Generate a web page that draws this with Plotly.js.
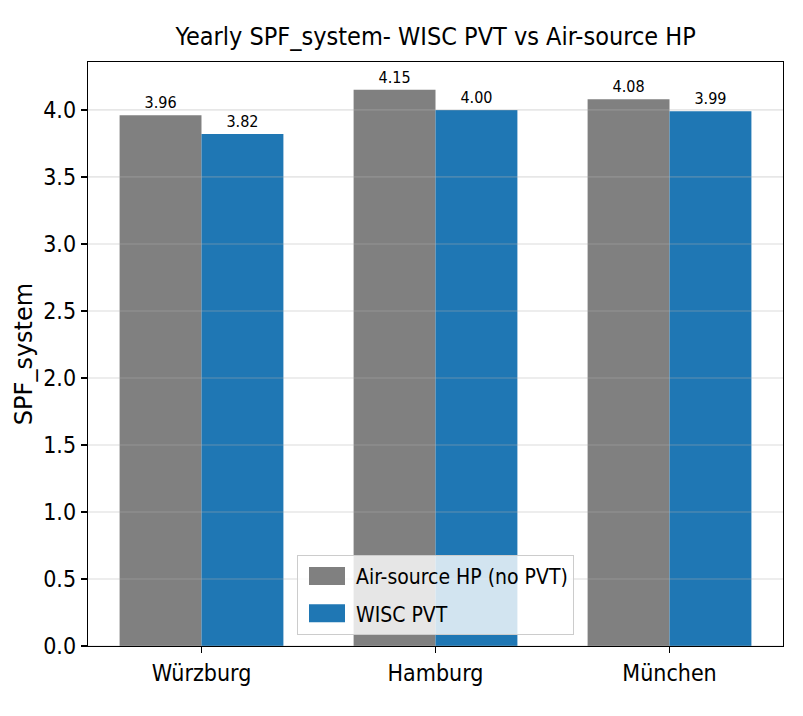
<!DOCTYPE html>
<html>
<head>
<meta charset="utf-8">
<script src="https://cdn.plot.ly/plotly-3.0.1.min.js"></script>
<style>
  html, body { margin: 0; padding: 0; background: #fff; }
  #chart { width: 803px; height: 716px; }
</style>
</head>
<body>
<div id="chart"></div>
<script>
// Yearly SPF per city, two systems
const CITIES = ["Würzburg", "Hamburg", "München"];
const AIR_SOURCE = [3.96, 4.15, 4.08]; // Air-source HP (no PVT)
const WISC_PVT = [3.82, 4.0, 3.99];
const Y_TICKS = [0, 0.5, 1.0, 1.5, 2.0, 2.5, 3.0, 3.5, 4.0];

const COND = "'DejaVu Sans Condensed', 'DejaVu Sans', sans-serif";

// matplotlib-ish autoscale: 5% headroom above the tallest bar
const yMax = Math.max(...AIR_SOURCE, ...WISC_PVT) * 1.05;

function barTrace(name, values, color, group) {
  return {
    type: "bar",
    name,
    x: CITIES,
    y: values,
    legendgroup: group,
    marker: { color, line: { width: 0 } },
    texttemplate: "%{y:.2f}",
    textposition: "outside",
    textfont: { family: COND, size: 16, color: "#000" },
    cliponaxis: false,
    hoverinfo: "x+y",
  };
}

const traces = [
  barTrace("Air-source HP (no PVT)", AIR_SOURCE, "#808080", "a"),
  barTrace("WISC PVT", WISC_PVT, "#1f77b4", "b"),
];

// grid drawn over the bars, faint, like ax.grid(alpha=0.3)
const gridShapes = Y_TICKS.map((v) => ({
  type: "line",
  xref: "paper",
  yref: "y",
  x0: 0,
  x1: 1,
  y0: v,
  y1: v,
  layer: "above",
  line: { color: "rgba(176,176,176,0.3)", width: 1.6 },
}));

const axisStyle = {
  showline: true,
  linecolor: "#000",
  linewidth: 1.3,
  mirror: true,
  ticks: "outside",
  ticklen: 6,
  tickwidth: 1.3,
  tickcolor: "#000",
  showgrid: false,
  tickfont: { family: COND, size: 23 },
};

const layout = {
  width: 803,
  height: 716,
  margin: { l: 88, r: 20, t: 62, b: 70 },
  paper_bgcolor: "#ffffff",
  plot_bgcolor: "#ffffff",
  font: { family: COND, size: 22, color: "#000" },
  title: {
    text: "Yearly SPF_system- WISC PVT vs Air-source HP",
    font: { family: COND, size: 25, color: "#000" },
    x: 0.5425,
    xanchor: "center",
    yref: "container",
    y: 0.949,
    yanchor: "middle",
  },
  barmode: "group",
  bargap: 0.3,
  bargroupgap: 0,
  xaxis: {
    ...axisStyle,
    type: "category",
    range: [-0.485, 2.485],
  },
  yaxis: {
    ...axisStyle,
    range: [0, yMax],
    tickvals: Y_TICKS,
    tickformat: ".1f",
    zeroline: false,
    title: {
      text: "SPF_system",
      font: { family: "'DejaVu Sans', sans-serif", size: 24 },
      standoff: 3,
    },
  },
  shapes: gridShapes,
  legend: {
    x: 0.5,
    xanchor: "center",
    y: 0.019,
    yanchor: "bottom",
    bgcolor: "rgba(255,255,255,0.8)",
    bordercolor: "#cccccc",
    borderwidth: 1,
    font: { family: COND, size: 21 },
    itemwidth: 48,
    tracegroupgap: 7,
  },
  showlegend: true,
};

Plotly.newPlot("chart", traces, layout, { displayModeBar: false, staticPlot: true }).then((gd) => {
  // widen the legend swatches to matplotlib-style patches (36x18)
  gd.querySelectorAll(".legend .legendpoints path").forEach((p) => {
    p.setAttribute("d", "M18,9H-18V-9H18Z");
  });
});
</script>
</body>
</html>
